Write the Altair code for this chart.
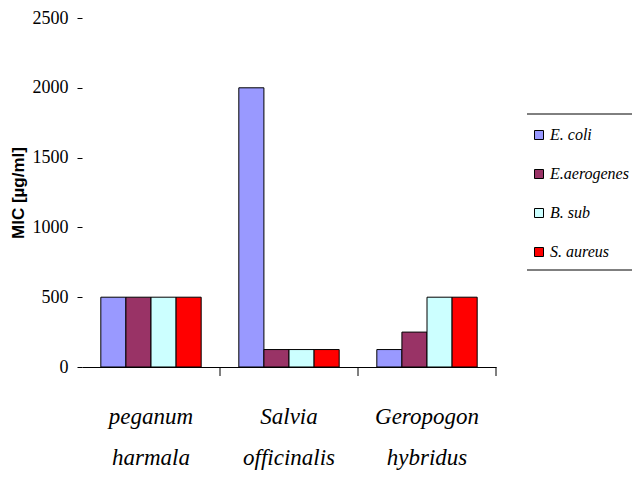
import altair as alt
import pandas as pd

plants = ["peganum harmala", "Salvia officinalis", "Geropogon hybridus"]
strains = ["E. coli", "E.aerogenes", "B. sub", "S. aureus"]
colors = ["#9999FF", "#993366", "#CCFFFF", "#FF0000"]
mic = {
    "E. coli": [500, 2000, 125],
    "E.aerogenes": [500, 125, 250],
    "B. sub": [500, 125, 500],
    "S. aureus": [500, 125, 500],
}
y_ticks = [0, 500, 1000, 1500, 2000, 2500]

rows = []
for s in strains:
    for p, v in zip(plants, mic[s]):
        rows.append({"plant": p, "strain": s, "mic": v})
df = pd.DataFrame(rows)

W, H = 414, 349

bars = alt.Chart(df).mark_bar(stroke="black", strokeWidth=1).encode(
    x=alt.X("plant:N", sort=plants,
            scale=alt.Scale(paddingInner=0, paddingOuter=0),
            axis=alt.Axis(title=None, labelAngle=0, ticks=False, domain=True,
                          domainColor="black", domainWidth=1,
                          labelFont="Liberation Serif", labelFontStyle="italic",
                          labelFontSize=23, labelColor="black",
                          labelLineHeight=41, labelPadding=38,
                          labelExpr="split(datum.label, ' ')")),
    xOffset=alt.XOffset("strain:N", sort=strains,
                        scale=alt.Scale(paddingInner=0, paddingOuter=0.75)),
    y=alt.Y("mic:Q", scale=alt.Scale(domain=[0, 2500], nice=False),
            axis=alt.Axis(title="MIC [µg/ml]", values=y_ticks, grid=False,
                          format="d",
                          domain=False, tickColor="black", tickSize=5,
                          labelFont="Liberation Serif", labelFontSize=18,
                          labelColor="black", labelPadding=9,
                          titleFont="Liberation Sans", titleFontWeight="bold",
                          titleFontSize=17, titleColor="black",
                          titlePadding=5)),
    color=alt.Color("strain:N", sort=strains,
                    scale=alt.Scale(domain=strains, range=colors),
                    legend=alt.Legend(title=None, orient="none",
                                      legendX=449, legendY=109,
                                      symbolType="square", symbolSize=81,
                                      symbolStrokeColor="black",
                                      symbolStrokeWidth=1,
                                      labelFont="Liberation Serif",
                                      labelFontStyle="italic",
                                      labelFontSize=16, labelColor="black",
                                      rowPadding=23, labelOffset=3,
                                      padding=0)),
)

ticks = alt.Chart(pd.DataFrame({"plant": plants})).mark_rule(
    color="black", strokeWidth=1).encode(
    x=alt.X("plant:N", sort=plants, bandPosition=1),
    y=alt.value(H),
    y2=alt.value(H + 9),
)

frame_top = alt.Chart(pd.DataFrame({"a": [0]})).mark_rule(
    color="black", strokeWidth=1).encode(
    x=alt.value(445), x2=alt.value(558), y=alt.value(96))
frame_bot = alt.Chart(pd.DataFrame({"a": [0]})).mark_rule(
    color="black", strokeWidth=1).encode(
    x=alt.value(445), x2=alt.value(558), y=alt.value(252))

chart = alt.layer(bars, ticks, frame_top, frame_bot).properties(
    width=W, height=H,
    background="white",
    autosize=alt.AutoSizeParams(type="none"),
    padding={"left": 74, "top": 10, "right": 136, "bottom": 105},
).configure_view(strokeWidth=0)

chart.save("out.html", embed_options={"renderer": "svg", "actions": False})
